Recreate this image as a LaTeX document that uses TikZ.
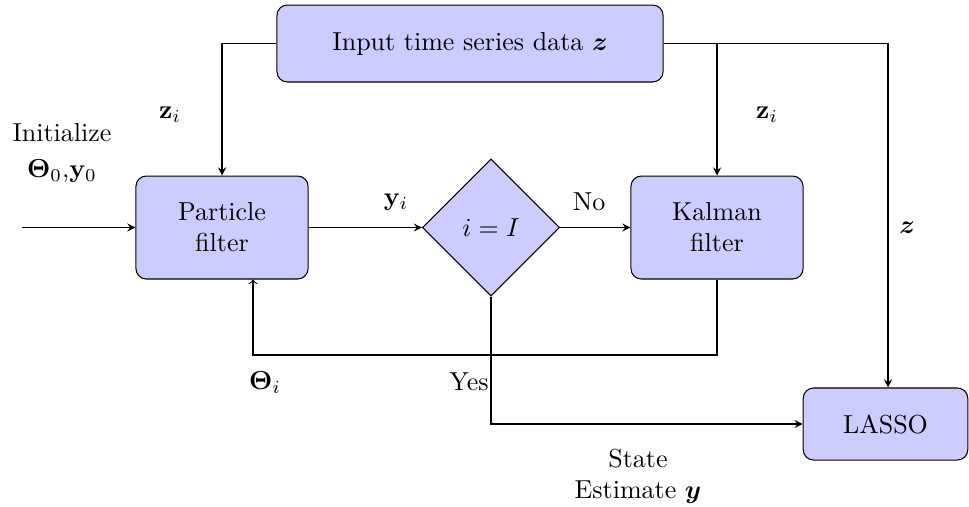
\documentclass[tikz,border=0pt]{standalone}
\usepackage{amsmath,bm}
\usetikzlibrary{shapes.geometric}
\begin{document}
\begin{tikzpicture}[x=0.3846pt,y=-0.3846pt,
  box/.style={draw, rounded corners=4pt, fill=blue!20, align=center, inner sep=0pt},
  dia/.style={draw, diamond, fill=blue!20, inner sep=0pt, minimum width=52.7pt, minimum height=52.7pt},
  arr/.style={-stealth},
  lab/.style={inner sep=1pt}]
\useasboundingbox (0,0) rectangle (969,506);
\node[box, minimum width=148.5pt, minimum height=29.6pt] (in) at (470,43.5) {Input time series data $\bm{z}$};
\node[box, minimum width=66.2pt, minimum height=39.6pt] (pf) at (222,227.5) {Particle\\filter};
\node[dia] (d) at (491,227.5) {$i = I$};
\node[box, minimum width=66.2pt, minimum height=39.6pt] (kf) at (717,227.5) {Kalman\\filter};
\node[box, minimum width=63.3pt, minimum height=27.7pt] (la) at (885.5,424) {LASSO};
\coordinate (st) at (22,227.5);
\coordinate (lp) at (253,355);
\coordinate (zc) at (888,43.5);
\draw[arr] (in.west) -| (pf.north);
\draw[arr] (in.east) -- (zc) -- (zc |- la.north);
\draw[arr] (kf.north |- in.east) -- (kf.north);
\draw[arr] (st) -- (pf.west);
\draw[arr] (pf.east) -- (d.west);
\draw[arr] (d.east) -- (kf.west);
\draw[->] (kf.south) |- (lp) -- (lp |- pf.south);
\draw[arr] (d.south) |- (la.west);
\node[lab, align=center] (init) at (62,153) {Initialize\\[2pt]$\bm{\Theta}_0$,$\mathbf{y}_0$};
\node[lab] (zl) at (170,115) {$\mathbf{z}_i$};
\node[lab] (zr) at (767,115) {$\mathbf{z}_i$};
\node[lab] (yi) at (396,202) {$\mathbf{y}_i$};
\node[lab] (no) at (589,202) {No};
\node[lab] (z) at (907,228) {$\bm{z}$};
\node[lab] (th) at (265,383) {$\bm{\Theta}_i$};
\node[lab] (yes) at (469,382) {Yes};
\node[lab, align=center] (se) at (638,476) {State\\Estimate $\bm{y}$};
\end{tikzpicture}
\end{document}
